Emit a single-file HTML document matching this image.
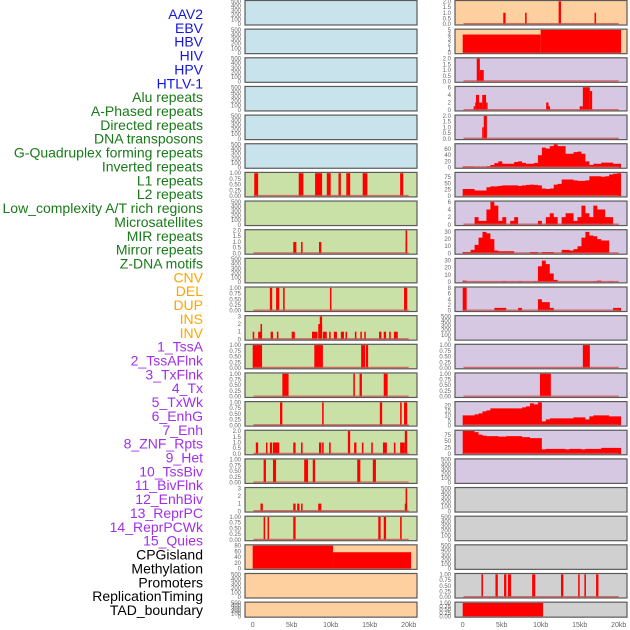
<!DOCTYPE html>
<html><head><meta charset="utf-8"><style>
html,body{margin:0;padding:0;background:#fff;}
svg{display:block;font-family:"Liberation Sans",sans-serif;}
</style></head><body>
<svg id="chart" width="630" height="630" viewBox="0 0 630 630" xmlns="http://www.w3.org/2000/svg"></svg>
<script>
// ---------- data ----------
const labels = ["AAV2","EBV","HBV","HIV","HPV","HTLV-1","Alu repeats","A-Phased repeats","Directed repeats","DNA transposons","G-Quadruplex forming repeats","Inverted repeats","L1 repeats","L2 repeats","Low_complexity A/T rich regions","Microsatellites","MIR repeats","Mirror repeats","Z-DNA motifs","CNV","DEL","DUP","INS","INV","1_TssA","2_TssAFlnk","3_TxFlnk","4_Tx","5_TxWk","6_EnhG","7_Enh","8_ZNF_Rpts","9_Het","10_TssBiv","11_BivFlnk","12_EnhBiv","13_ReprPC","14_ReprPCWk","15_Quies","CPGisland","Methylation","Promoters","ReplicationTiming","TAD_boundary"];
const xTicks = [0,5,10,15,20];
const xTickLabels = ["0","5kb","10kb","15kb","20kb"];

// sparse features: start kb, end kb, value
const aluStart=[0.2,5.9,8.0,9.5,11.0,12.0,14.1,18.9], aluEnd=[0.7,6.5,8.9,10.0,11.3,12.5,14.7,19.3], aluVal=[1,1,1,1,1,1,1,1];
const dirStart=[5.2,6.2,8.5,19.6,19.6], dirEnd=[5.6,6.4,8.8,19.8,19.75], dirVal=[1,1,1,2,1];
const gqStart=[2.2,3.0,3.9,9.9,19.4], gqEnd=[2.5,3.4,4.1,10.1,19.8], gqVal=[1,1,1,1,1];
const invrStart=[0,0.7,1.0,2.3,3.1,5.0,7.6,8.4,8.6,9.0,9.8,10.4,11.3,11.9,13.1,13.8,14.3,16.2,16.8,17.5,18.1];
const invrEnd=[0.2,1.2,1.2,2.6,3.3,5.4,8.3,8.9,8.9,9.5,10.0,10.8,11.7,12.1,13.3,14.0,14.5,16.5,17.1,17.7,18.6];
const invrVal=[1,1,2,1,1,1,1,2,3,1,1,1,1,1,1,1,1,1,1,1,1];
const l1Start=[0,7.9,13.9,14.5], l1End=[1.2,9.0,14.4,14.8], l1Val=[1,1,1,1];
const l2Start=[3.8,12.9,13.7,16.8], l2End=[4.6,13.1,14.0,17.3], l2Val=[1,1,1,1];
const lcStart=[3.5,8.9,16.3,18.9,19.4], lcEnd=[3.8,9.1,16.6,19.1,19.8], lcVal=[1,1,1,1,1];
const msStart=[0.4,1.7,2.2,2.6,5.2,6.2,8.5,8.9,9.8,12.2,13.0,14.0,15.2,16.7,18.1,18.9,19.5];
const msEnd=[0.7,1.9,2.5,3.4,5.5,6.4,8.8,9.1,10.0,12.5,13.3,14.2,15.4,17.2,18.3,19.5,19.8];
const msVal=[1,1,1,1,1,1,1,1,1,2,1,1,1,1,1,1,2];
const mirStart=[1.4,2.6,6.6,7.7,13.4,15.4], mirEnd=[1.7,3.0,7.1,8.0,13.8,15.8], mirVal=[1,1,1,1,1,1];
const mirrStart=[1.0,5.2,5.7,6.2,8.4,19.5,19.6], mirrEnd=[1.3,5.5,6.0,6.4,8.8,19.8,19.8], mirrVal=[1,1,1,1,1,1,3];
const zdnaStart=[1.4,1.9,5.2,16.1,16.8,18.9], zdnaEnd=[1.6,2.1,5.5,16.4,17.1,19.1], zdnaVal=[1,1,1,1,1,1];
const cnvStart=[0,10.3], cnvEnd=[10.3,20.3], cnvVal=[80,57];
const insStart=[5.2,8.0,12.3,16.9], insEnd=[5.5,8.2,12.6,17.1], insVal=[1,1,2,1];
const invStart=[0,10], invEnd=[10,20.3], invVal=[4,5];
const tssaStart=[1.8,2.2], tssaEnd=[2.2,2.7], tssaVal=[2,1];
const flnkStart=[1.4,1.6,1.7,2.1,2.5,3.0,10.7,11.0,15.0,15.4,16.3], flnkEnd=[1.6,1.7,2.1,2.5,3.0,3.1,11.0,11.2,15.4,16.3,16.6], flnkVal=[1,2,4,2,4,2,2,1,1,6,5];
const txflStart=[2.5,2.7], txflEnd=[2.7,3.1], txflVal=[1,2];
const biv11Start=[15.4], biv11End=[16.3], biv11Val=[1];
const enhbStart=[9.9], enhbEnd=[11.3], enhbVal=[1];
const promStart=[2.4,4.2,5.3,5.8,8.9,12.6,14.8,15.6,17.1], promEnd=[2.6,4.5,5.6,6.2,9.3,12.9,15.0,15.8,17.4], promVal=[1,1,1,1,1,1,1,1,1];
const tadStart=[0], tadEnd=[10.3], tadVal=[1];

// binned profiles (40 bins across 0-20.3kb)
const txBins=[3,3,3,1,1,1,4,8,14,20,12,12,12,18,20,15,12,12,15,40,65,62,70,75,70,70,45,45,50,52,45,20,8,12,12,16,16,16,12,12];
const txwkBins=[28,28,28,22,22,22,35,38,38,40,42,42,42,42,40,42,44,45,44,42,30,28,30,45,48,65,65,65,62,60,60,62,78,78,78,76,78,85,88,90];
const enhgBins=[0,0,0,2,1,1,4,6,5,1,2,0,1,2,0,0,0,0,0,1,0,2,3,2,0,2,3,3,1,2,5,3,2,5,4,4,2,2,0,0];
const enhBins=[2,2,5,12,22,30,28,20,4,3,3,3,3,0,0,0,0,2,2,0,2,2,2,0,0,5,5,4,6,10,22,30,25,24,20,18,18,0,0,0];
const znfBins=[2,0,0,0,0,0,0,0,0,0,1,0,0,0,1,0,0,0,1,22,30,25,12,3,0,0,0,0,0,0,0,0,0,1,2,0,0,1,0,0];
const hetBins=[8,0,0,0,0,0,0,0,1,1,1,0,0,0,1,0,0,0,0,4,3,3,1,0,0,0,0,0,0,0,0,0,0,0,0,0,0,0,1,1];
const tssbBins=[10,10,10,11,12,14,15,17,17,17,17,17,17,17,17,18,19,22,21,23,4,6,7,7,7,7,7,7,8,8,8,6,9,10,10,10,10,9,9,9];
const bivBins=[90,90,90,86,76,72,70,70,70,68,68,70,70,70,70,66,66,62,62,62,18,20,20,20,20,20,18,20,20,20,18,20,20,20,20,24,24,24,24,24];

// ---------- panel config ----------
const BG={blue:"#c8e3eb",green:"#c9e1a6",orange:"#fecf9f",purple:"#d6c8e2",grey:"#d0d0d0"};
const T500=[0,100,200,300,400,500], T1=[0,0.25,0.5,0.75,1], T2=[0,0.5,1,1.5,2], T3=[0,1,2,3];
const F1=["0.00","0.25","0.50","0.75","1.00"], F2=["0.0","0.5","1.0","1.5","2.0"];
const panels=[
 {bg:"blue",ymax:500,t:T500},{bg:"blue",ymax:500,t:T500},{bg:"blue",ymax:500,t:T500},{bg:"blue",ymax:500,t:T500},{bg:"blue",ymax:500,t:T500},{bg:"blue",ymax:500,t:T500},
 {bg:"green",ymax:1,t:T1,f:F1,s:[aluStart,aluEnd,aluVal]},
 {bg:"green",ymax:500,t:T500},
 {bg:"green",ymax:2,t:T2,f:F2,s:[dirStart,dirEnd,dirVal]},
 {bg:"green",ymax:500,t:T500},
 {bg:"green",ymax:1,t:T1,f:F1,s:[gqStart,gqEnd,gqVal]},
 {bg:"green",ymax:3,t:T3,s:[invrStart,invrEnd,invrVal]},
 {bg:"green",ymax:1,t:T1,f:F1,s:[l1Start,l1End,l1Val]},
 {bg:"green",ymax:1,t:T1,f:F1,s:[l2Start,l2End,l2Val]},
 {bg:"green",ymax:1,t:T1,f:F1,s:[lcStart,lcEnd,lcVal]},
 {bg:"green",ymax:2,t:T2,f:F2,s:[msStart,msEnd,msVal]},
 {bg:"green",ymax:1,t:T1,f:F1,s:[mirStart,mirEnd,mirVal]},
 {bg:"green",ymax:3,t:T3,s:[mirrStart,mirrEnd,mirrVal]},
 {bg:"green",ymax:1,t:T1,f:F1,s:[zdnaStart,zdnaEnd,zdnaVal]},
 {bg:"orange",ymax:80,t:[0,20,40,60,80],s:[cnvStart,cnvEnd,cnvVal],nb:1},
 {bg:"orange",ymax:500,t:T500},{bg:"orange",ymax:500,t:T500},
 {bg:"orange",ymax:2,t:T2,f:F2,s:[insStart,insEnd,insVal]},
 {bg:"orange",ymax:5,t:[0,1,2,3,4,5],s:[invStart,invEnd,invVal],nb:1},
 {bg:"purple",ymax:2,t:T2,f:F2,s:[tssaStart,tssaEnd,tssaVal]},
 {bg:"purple",ymax:6,t:[0,2,4,6],s:[flnkStart,flnkEnd,flnkVal]},
 {bg:"purple",ymax:2,t:T2,f:F2,s:[txflStart,txflEnd,txflVal]},
 {bg:"purple",ymax:75,t:[0,20,40,60],b:txBins},
 {bg:"purple",ymax:90,t:[0,25,50,75],b:txwkBins},
 {bg:"purple",ymax:6,t:[0,2,4,6],b:enhgBins},
 {bg:"purple",ymax:32,t:[0,10,20,30],b:enhBins},
 {bg:"purple",ymax:32,t:[0,10,20,30],b:znfBins},
 {bg:"purple",ymax:8,t:[0,2,4,6,8],b:hetBins},
 {bg:"purple",ymax:500,t:T500},
 {bg:"purple",ymax:1,t:T1,f:F1,s:[biv11Start,biv11End,biv11Val]},
 {bg:"purple",ymax:1,t:T1,f:F1,s:[enhbStart,enhbEnd,enhbVal]},
 {bg:"purple",ymax:23,t:[0,5,10,15,20],b:tssbBins},
 {bg:"purple",ymax:90,t:[0,25,50,75],b:bivBins},
 {bg:"purple",ymax:500,t:T500},
 {bg:"grey",ymax:500,t:T500},{bg:"grey",ymax:500,t:T500},{bg:"grey",ymax:500,t:T500},
 {bg:"grey",ymax:1,t:T1,f:F1,s:[promStart,promEnd,promVal]},
 {bg:"grey",ymax:1,t:T1,f:F1,s:[tadStart,tadEnd,tadVal],nb:1}
];
const labelColors=i=> i<6?"#1515e0": i<19?"#187a18": i<24?"#ffa500": i<39?"#a030e8":"#000";

// ---------- render ----------
const NS="http://www.w3.org/2000/svg";
const svg=document.getElementById("chart");
function mk(tag,attrs,parent){const e=document.createElementNS(NS,tag);for(const k in attrs)e.setAttribute(k,attrs[k]);(parent||svg).appendChild(e);return e;}
const colX=[{x0:245,x1:417,d0:252.7},{x0:455,x1:627,d0:462.7}];
const KB=7.8, PITCH=28.65;
const xScale=(c,kb)=>colX[c].d0+kb*KB;

labels.forEach((lab,i)=>{
  const t=mk("text",{x:203,y:14+i*13.86+5,"text-anchor":"end","font-size":"14",fill:labelColors(i)});
  t.textContent=lab;
  
  
});

panels.forEach((p,i)=>{
  const c=i<22?0:1, r=i%22;
  const top=r*PITCH+0.5, h= r===21?15:24.5, bot=top+h;
  const g=mk("g",{});
  
  
  mk("rect",{x:colX[c].x0,y:top,width:colX[c].x1-colX[c].x0,height:h,fill:BG[p.bg],stroke:"#5a5a5a","stroke-width":1.2},g);
  const yS=v=>bot-0.8-(v/p.ymax)*(h-1.6);
  // y ticks
  p.t.forEach((tv,k)=>{
    const tt=mk("text",{x:colX[c].x0-4,y:yS(tv)+2,"text-anchor":"end","font-size":"6",fill:"#666"},g);
    tt.textContent=p.f?p.f[k]:String(tv);
    
    
  });
  const hasData=p.s||p.b;
  if(hasData){
    if(p.s){
      const [st,en,va]=p.s;
      st.forEach((s,k)=>{
        const x=xScale(c,s), w=Math.max(1.5,xScale(c,en[k])-x);
        const b=mk("rect",{x:x,y:yS(va[k]),width:w,height:yS(0)-yS(va[k]),fill:"#ff0000"},g);
        
        
      });
    } else {
      const bw=20.3/p.b.length;
      let d="M"+xScale(c,0)+","+yS(0);
      p.b.forEach((v,k)=>{d+=" L"+xScale(c,k*bw)+","+yS(v)+" L"+xScale(c,(k+1)*bw)+","+yS(v);});
      d+=" L"+xScale(c,20.3)+","+yS(0)+"Z";
      const a=mk("path",{d:d,fill:"#ff0000"},g);
      
      
    }
    if(!p.nb){
      const bl=mk("line",{x1:xScale(c,0.1),x2:xScale(c,20),y1:yS(0)-0.5,y2:yS(0)-0.5,stroke:"#d05050","stroke-width":1.4,"stroke-opacity":0.8},g);
      
      
    }
  }
});

[0,1].forEach(c=>{
  xTicks.forEach((v,k)=>{
    const t=mk("text",{x:xScale(c,v),y:627,"text-anchor":"middle","font-size":"7",fill:"#666"});
    t.textContent=xTickLabels[k];
    
    
  });
});
</script>
</body></html>
